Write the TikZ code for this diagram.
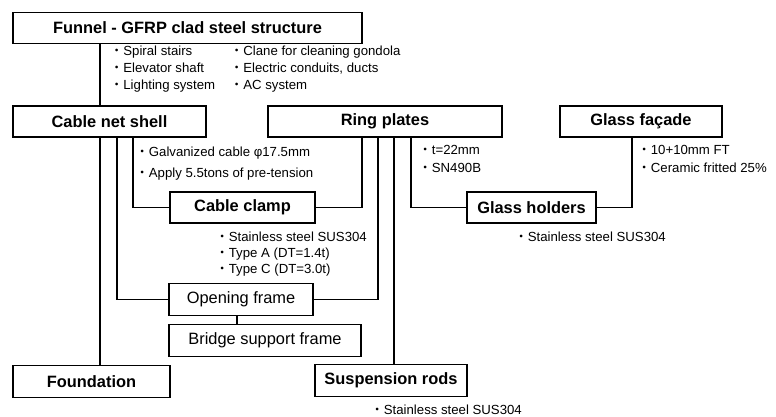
\documentclass[tikz,border=0pt]{standalone}
\usepackage{fontspec}
\setmainfont{Liberation Sans}
\newfontfamily\cjkfont{Noto Sans CJK JP}
\newcommand\bul{{\cjkfont ・}}
\tikzset{
  box/.style={draw, line width=1.7pt, inner sep=0pt, minimum height=31pt, font=\fontsize{16.4}{18}\selectfont\bfseries},
  pbox/.style={box, font=\fontsize{16.4}{18}\selectfont},
  conn/.style={line width=1.7pt},
  note/.style={anchor=base west, inner sep=0pt, font=\fontsize{13.2}{15}\selectfont},
}
\begin{document}
\begin{tikzpicture}[x=1pt,y=-1pt]
\useasboundingbox (0,0) rectangle (776,417);
% boxes
\node[box, minimum width=349pt] (funnel) at (187.5,28) {Funnel - GFRP clad steel structure};
\node[box, minimum width=193pt] (cns) at (109.5,121.5) {Cable net shell};
\node[box, minimum width=234pt] (ring) at (385,121.5) {Ring plates};
\node[box, minimum width=162pt] (glass) at (641,121.5) {Glass façade};
\node[box, minimum width=145pt] (clamp) at (242.5,207.5) {Cable clamp};
\node[box, minimum width=129pt] (gh) at (531.5,207.5) {Glass holders};
\node[pbox, minimum width=144pt, minimum height=32pt] (open) at (241,299.5) {Opening frame};
\node[pbox, minimum width=192pt, minimum height=32pt] (bridge) at (265,340.5) {Bridge support frame};
\node[box, minimum width=157pt, minimum height=32pt] (found) at (91.5,381.5) {Foundation};
\node[box, minimum width=152pt, minimum height=32pt] (susp) at (391,380.5) {Suspension rods};
% connector columns
\coordinate (xa) at (100,0);
\coordinate (xb) at (117,0);
\coordinate (xc) at (133,0);
\coordinate (xd) at (362,0);
\coordinate (xe) at (378,0);
\coordinate (xf) at (394,0);
\coordinate (xg) at (411,0);
\coordinate (xh) at (632,0);
\coordinate (xi) at (237,0);
\draw[conn] (funnel.south -| xa) -- (cns.north -| xa);
\draw[conn] (cns.south -| xa) -- (found.north -| xa);
\draw[conn] (cns.south -| xb) |- (open.west);
\draw[conn] (cns.south -| xc) |- (clamp.west);
\draw[conn] (ring.south -| xd) |- (clamp.east);
\draw[conn] (ring.south -| xe) |- (open.east);
\draw[conn] (ring.south -| xf) -- (susp.north -| xf);
\draw[conn] (ring.south -| xg) |- (gh.west);
\draw[conn] (glass.south -| xh) |- (gh.east);
\draw[conn] (open.south -| xi) -- (bridge.north -| xi);
% notes
\node[note] (f1) at (110,56) {\bul Spiral stairs};
\node[note] (f2) at (110,73) {\bul Elevator shaft};
\node[note] (f3) at (110,90) {\bul Lighting system};
\node[note] (f4) at (230,56) {\bul Clane for cleaning gondola};
\node[note] (f5) at (230,73) {\bul Electric conduits, ducts};
\node[note] (f6) at (230,90) {\bul AC system};
\node[note] (c1) at (135.5,156.5) {\bul Galvanized cable φ17.5mm};
\node[note] (c2) at (135.5,177.5) {\bul Apply 5.5tons of pre-tension};
\node[note] (r1) at (418.5,154.5) {\bul t=22mm};
\node[note] (r2) at (418.5,172.5) {\bul SN490B};
\node[note] (g1) at (637.5,154.5) {\bul 10+10mm FT};
\node[note] (g2) at (637.5,172.5) {\bul Ceramic fritted 25\%};
\node[note] (k1) at (215.5,241.5) {\bul Stainless steel SUS304};
\node[note] (k2) at (215.5,257.5) {\bul Type A (DT=1.4t)};
\node[note] (k3) at (215.5,273.5) {\bul Type C (DT=3.0t)};
\node[note] (h1) at (514.5,241.5) {\bul Stainless steel SUS304};
\node[note] (s1) at (370.5,414.5) {\bul Stainless steel SUS304};
\end{tikzpicture}
\end{document}
